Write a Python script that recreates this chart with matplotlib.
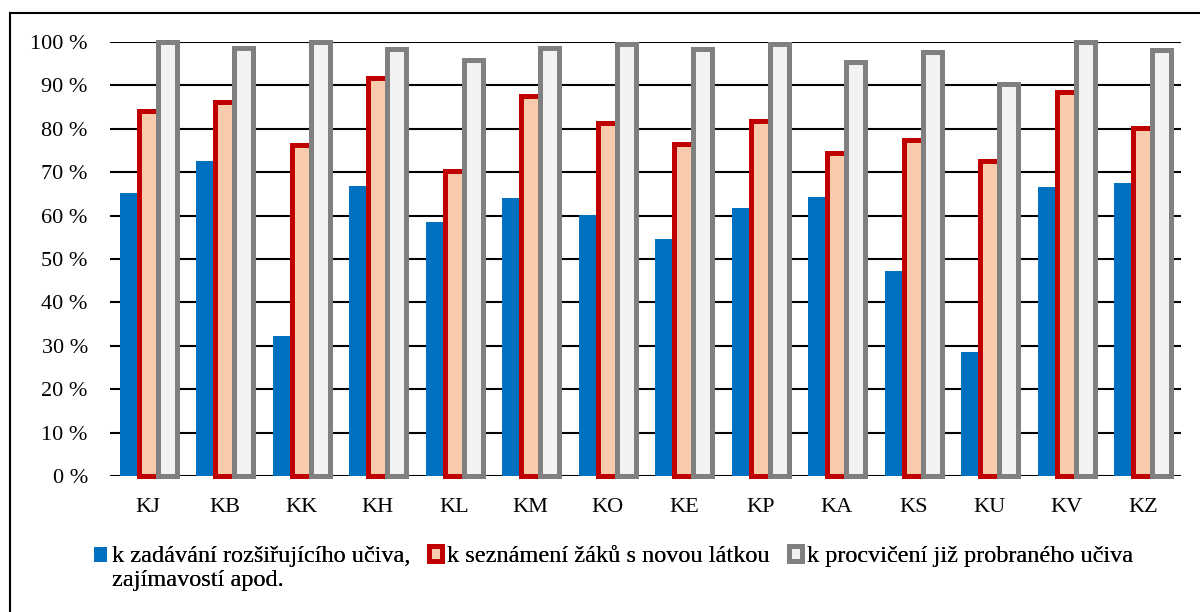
import numpy as np
import matplotlib.pyplot as plt
from matplotlib.patches import Patch, Rectangle
from matplotlib.legend_handler import HandlerPatch

plt.rcParams['font.family'] = ['Liberation Serif', 'DejaVu Serif']

# data (percent)
categories = ["KJ", "KB", "KK", "KH", "KL", "KM", "KO", "KE", "KP", "KA", "KS", "KU", "KV", "KZ"]
rozsirujici = [65.3, 72.6, 32.3, 66.9, 58.5, 64.1, 60.1, 54.6, 61.8, 64.3, 47.3, 28.5, 66.5, 67.5]
nova_latka = [84.0, 86.2, 76.2, 91.7, 70.2, 87.6, 81.3, 76.5, 81.9, 74.5, 77.4, 72.5, 88.4, 80.2]
procviceni = [100.0, 98.6, 100.0, 98.5, 95.9, 98.6, 99.6, 98.5, 99.6, 95.3, 97.8, 90.4, 100.0, 98.1]
labels = ["k zadávání rozšiřujícího učiva,\nzajímavostí apod.",
          "k seznámení žáků s novou látkou",
          "k procvičení již probraného učiva"]

fig = plt.figure(figsize=(12, 6.12), dpi=100)
ax = fig.add_axes([110 / 1200, 1 - 476 / 612, (1181 - 110) / 1200, (476 - 42) / 612])

x = np.arange(len(categories))
w = 0.25
ax.bar(x - w, rozsirujici, w, color="#0070C0", zorder=3)
ax.bar(x, nova_latka, w, color="#F8CBAD", edgecolor="#C00000", linewidth=3.6, zorder=3, clip_on=False)
ax.bar(x + w, procviceni, w, color="#F2F2F2", edgecolor="#808080", linewidth=3.6, zorder=3, clip_on=False)

ax.set_xlim(-0.5, len(categories) - 0.5)
ax.set_ylim(0, 100)
ax.set_yticks(np.arange(0, 101, 10))
ax.set_yticklabels([f"{v} %" for v in range(0, 101, 10)], fontsize=16)
ax.set_xticks(x)
ax.set_xticklabels(categories, fontsize=16)
ax.tick_params(axis="both", length=0)
ax.tick_params(axis="x", pad=16)
ax.tick_params(axis="y", pad=16)
ax.yaxis.grid(True, color="black", linewidth=1.5, zorder=0)
ax.set_axisbelow(True)
for s in ax.spines.values():
    s.set_visible(False)

# outer chart frame
fig.patches.append(Rectangle((10 / 1200, -0.05), 1.2, 1 - 13 / 612 + 0.05, transform=fig.transFigure,
                             fill=False, edgecolor="black", linewidth=1.5))


# first legend entry has two lines; keep its marker next to the first line
def top_square(legend, orig_handle, xdescent, ydescent, width, height, fontsize):
    return Rectangle((-xdescent, -ydescent + 9.5), width, height)


handles = [Patch(facecolor="#0070C0", edgecolor="#0070C0", linewidth=0),
           Patch(facecolor="#F8CBAD", edgecolor="#C00000", linewidth=3.6),
           Patch(facecolor="#F2F2F2", edgecolor="#808080", linewidth=3.6)]
anchors = [(94 / 1200, 1 - 546 / 612), (429 / 1200, 1 - 546 / 612), (789 / 1200, 1 - 546 / 612)]
for i, (h, lab, a) in enumerate(zip(handles, labels, anchors)):
    hmap = {h: HandlerPatch(patch_func=top_square)} if i == 0 else None
    leg = fig.legend([h], [lab], loc="upper left", bbox_to_anchor=a, frameon=False, fontsize=17.5,
                     handlelength=0.55, handleheight=0.55, handletextpad=0.2, borderpad=0,
                     borderaxespad=0, handler_map=hmap)
    for t in leg.get_texts():
        t.set_linespacing(1.2)
    fig.add_artist(leg)

fig.savefig("out.png", dpi=100)
